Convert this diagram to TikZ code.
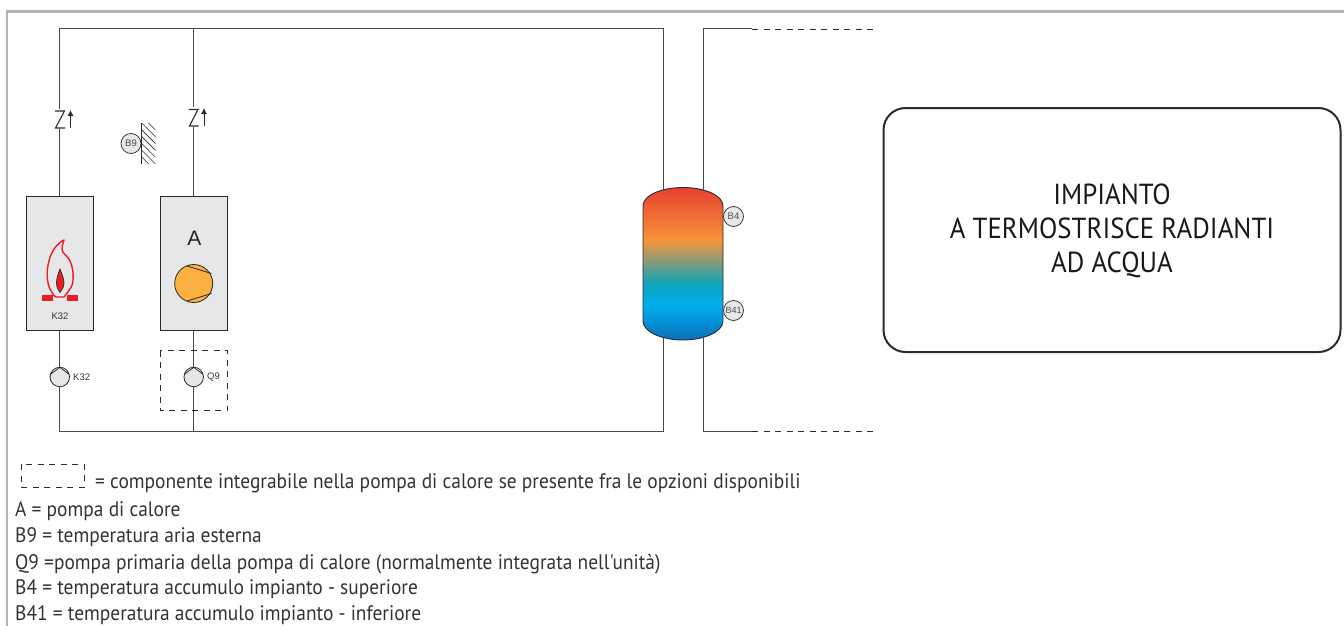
\documentclass[tikz,border=0pt]{standalone}
\usepackage{fontspec}
\setmainfont{PT Sans}
\newfontfamily\legendf[FakeStretch=0.925]{PT Sans}
\newfontfamily\arialf{Liberation Sans}
\usetikzlibrary{arrows.meta}
\definecolor{boxgrey}{HTML}{E6E7E8}
\definecolor{framegrey}{HTML}{B3B3B3}
\definecolor{pipecol}{HTML}{4A4A4A}
\definecolor{inkcol}{HTML}{2B2B2B}
\definecolor{flamered}{HTML}{ED1C24}
\definecolor{pumporange}{HTML}{FBB040}
\definecolor{tankA}{HTML}{0A70B8}
\definecolor{tankB}{HTML}{00AEEF}
\definecolor{tankC}{HTML}{10A4B8}
\definecolor{tankD}{HTML}{F7933A}
\definecolor{tankE}{HTML}{E8402F}
\pgfdeclareverticalshading{tankshade}{100bp}{
 color(0bp)=(tankA); color(25bp)=(tankA);
 color(36.4bp)=(tankB); color(43.6bp)=(tankC); color(57.7bp)=(tankD);
 color(75bp)=(tankE); color(100bp)=(tankE)}
\tikzset{
 pipe/.style={draw=pipecol,line width=1pt},
 unitbox/.style={draw=inkcol,fill=boxgrey,line width=.9pt,minimum width=66.6pt,minimum height=134pt,inner sep=0pt},
 sensor/.style={circle,draw=inkcol,fill=boxgrey,line width=.7pt,minimum size=20pt,inner sep=0pt,font=\arialf\fontsize{9.5}{10}\selectfont,text=black!70},
 pumpbase/.style={circle,fill=boxgrey,line width=.8pt,minimum size=19.5pt,inner sep=0pt},
 smalllab/.style={inner sep=0pt,font=\arialf\fontsize{9.5}{10}\selectfont,text=black!80},
 dashbox/.style={draw=inkcol,line width=.8pt,dash pattern=on 6pt off 5.5pt},
 legend/.style={anchor=base west,inner sep=0pt,font=\legendf\fontsize{21}{23}\selectfont,text=black!80},
 systext/.style={align=center,inner sep=0pt,font=\legendf\fontsize{29}{34}\selectfont,text=black!90}
}
\begin{document}
\begin{tikzpicture}[x=1pt,y=-1pt]
\useasboundingbox (0,0) rectangle (1344,626);
% frame
\draw[framegrey,line width=2.6pt] (7,626) -- (7,11.5) -- (1344,11.5);
% named points
\coordinate (topA) at (59.8,29);
\coordinate (topB) at (193.7,29);
\coordinate (topC) at (663,29);
\coordinate (topD) at (703,29);
\coordinate (topE) at (752,29);
\coordinate (topF) at (874,29);
\coordinate (botA) at (59.8,431);
\coordinate (botB) at (193.7,431);
\coordinate (botC) at (663,431);
\coordinate (botD) at (703,431);
\coordinate (botE) at (752,431);
\coordinate (botF) at (874,431);
\coordinate (tankCT) at (663,190);
\coordinate (tankDT) at (703,190);
\coordinate (tankCB) at (663,338);
\coordinate (tankDB) at (703,338);
% units
\node[unitbox] (boiler) at (60,263.7) {};
\node[unitbox] (hp) at (193.8,263.7) {};
\node[pumpbase] (pk) at (59.8,377) {};
\node[pumpbase] (pq) at (193.7,377) {};
% pipes
\draw[pipe] (boiler.north -| topA) -- (topA) -- (topC) -- (tankCT);
\draw[pipe] (hp.north -| topB) -- (topB);
\draw[pipe] (boiler.south -| pk) -- (pk.north);
\draw[pipe] (hp.south -| pq) -- (pq.north);
\draw[pipe] (pk.south) -- (botA) -- (botC) -- (tankCB);
\draw[pipe] (pq.south) -- (botB);
\draw[pipe] (tankDT) -- (topD) -- (topE);
\draw[pipe] (tankDB) -- (botD) -- (botE);
\draw[dashbox] (topE) -- (topF);
\draw[dashbox] (botE) -- (botF);
% pump symbols
\foreach \px/\pn in {59.8/pk,193.7/pq}{
 \begin{scope}
 \clip (\pn) circle[radius=9.75];
 \fill[white] (\px-11,375.5) -- (\px,367.3) -- (\px+11,375.5) -- (\px+11,366) -- (\px-11,366) -- cycle;
 \draw[inkcol,line width=.8pt,line join=round] (\px-11,375.5) -- (\px,367.3) -- (\px+11,375.5);
 \end{scope}
 \draw[inkcol,line width=.8pt] (\pn) circle[radius=9.75];
}
% check valves
\fill[white] (51,109) rectangle (68,129);
\fill[white] (185,107) rectangle (201,127);
\draw[inkcol,line width=1.1pt] (55,111) -- (64.5,111) -- (55.5,128) -- (65,128);
\draw[inkcol,line width=1.1pt] (189,109.5) -- (198,109.5) -- (189.5,126) -- (198.5,126);
\draw[inkcol,line width=.9pt,-{Latex[length=6pt,width=6pt]}] (70.5,128) -- (70.5,110);
\draw[inkcol,line width=.9pt,-{Latex[length=6pt,width=6pt]}] (204,126) -- (204,108);
% outdoor sensor with wall
\node[sensor] (b9) at (131,143.5) {B9};
\draw[inkcol,line width=.8pt] (141.5,123) -- (141.5,163.5);
\begin{scope}
\clip (141.5,123) rectangle (155.5,163.5);
\foreach \d in {-7,-0.2,...,41}{
 \draw[inkcol,line width=.6pt] (141.5,123+\d) -- (155.5,137+\d);
}
\end{scope}
% flame
\draw[flamered,line width=1.4pt,line join=round]
 (64,240) .. controls (57,243) and (51,252) .. (49,261)
 .. controls (46,271) and (47,283) .. (50,289)
 .. controls (52,293) and (54,296) .. (56,297)
 -- (64,297)
 .. controls (66,294) and (71,289) .. (72.5,284)
 .. controls (74,276) and (73,266) .. (69,259)
 .. controls (66,255) and (62,253) .. (62,249)
 .. controls (62,246) and (63,243) .. (64,240) -- cycle;
\draw[inkcol,fill=flamered,line width=.7pt] (60,269) .. controls (62,274) and (64,279) .. (64,283)
 .. controls (64,287) and (62,290) .. (60,292.5)
 .. controls (58,290) and (56.5,287) .. (56.5,283)
 .. controls (56.5,279) and (58,274) .. (60,269) -- cycle;
\fill[flamered] (42,295) rectangle (52.5,301);
\fill[flamered] (67,295) rectangle (78,301);
\node[smalllab] (lk32in) at (60,316) {K32};
% heat pump
\node[inner sep=0pt,font=\arialf\fontsize{21}{22}\selectfont,text=black!85] (la) at (194.5,238.5) {A};
\node[circle,draw=inkcol,fill=pumporange,line width=.8pt,minimum size=38pt,inner sep=0pt] (hpc) at (193.7,283.5) {};
\draw[inkcol,line width=.8pt] (187,266) -- (211.5,273.5) (187,301) -- (211.5,293.5);
% pump labels
\node[smalllab,anchor=west] (lk) at (73,377) {K32};
\node[smalllab,anchor=west] (lq) at (207,377) {Q9};
% dashed group
\draw[dashbox] (160,350.5) rectangle (227.5,410.5);
% tank
\path[draw=inkcol,line width=.9pt,shading=tankshade]
 (643,206) .. controls (643,195) and (662,187.5) .. (683,187.5)
 .. controls (704,187.5) and (723,195) .. (723,206)
 -- (723,321)
 .. controls (723,332) and (704,340) .. (683,340)
 .. controls (662,340) and (643,332) .. (643,321) -- cycle;
\node[sensor] (b4) at (733.5,216.5) {B4};
\node[sensor,font=\arialf\fontsize{9}{10}\selectfont] (b41) at (733.5,310.5) {B41};
% system box
\node[draw=inkcol,line width=2pt,rounded corners=22pt,minimum width=457pt,minimum height=244pt,inner sep=0pt] (sys) at (1112,230) {};
\node[systext] (systxt) at (1112,231) {IMPIANTO\\A TERMOSTRISCE RADIANTI\\AD ACQUA};
% legend
\draw[dashbox] (21,464) rectangle (84,487);
\node[legend] (l0) at (95,488.5) {= componente integrabile nella pompa di calore se presente fra le opzioni disponibili};
\node[legend] (l1) at (15,516) {A = pompa di calore};
\node[legend] (l2) at (15,542.5) {B9 = temperatura aria esterna};
\node[legend] (l3) at (15,569) {Q9 =pompa primaria della pompa di calore (normalmente integrata nell'unità)};
\node[legend] (l4) at (15,594.5) {B4 = temperatura accumulo impianto - superiore};
\node[legend] (l5) at (15,620.5) {B41 = temperatura accumulo impianto - inferiore};
\end{tikzpicture}
\end{document}
